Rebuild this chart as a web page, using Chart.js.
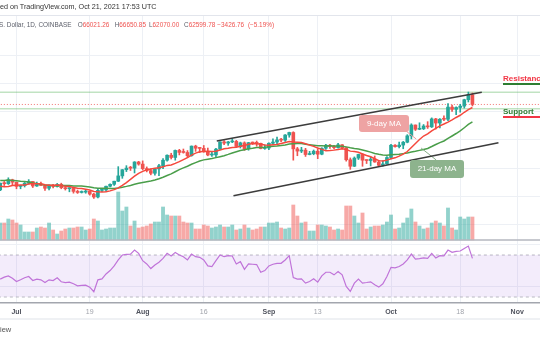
<!DOCTYPE html>
<html><head><meta charset="utf-8">
<script src="https://cdn.jsdelivr.net/npm/chart.js@4.4.0/dist/chart.umd.min.js"></script>
<style>
html,body{margin:0;padding:0;background:#fff;width:540px;height:340px;overflow:hidden;font-family:"Liberation Sans",Arial,sans-serif;}
#wrap{position:relative;width:540px;height:340px;}
canvas{position:absolute;left:0;top:0;}
.t{position:absolute;white-space:nowrap;line-height:1;}
.h2{top:21.5px;font-size:6.4px}
.g{color:#5d606b}.r{color:#ef5350}
.call{position:absolute;color:#fff;font-size:8px;text-align:center;border-radius:3px;line-height:17px;height:17px;}
</style></head><body>
<div id="wrap">
<canvas id="c" width="540" height="340"></canvas>
<div class="t" style="left:0;top:3px;font-size:7.2px;color:#333">ed on TradingView.com, Oct 21, 2021 17:53 UTC</div>
<div class="t g h2" style="left:-1px">S. Dollar, 1D, COINBASE</div>
<div class="t h2" style="left:77.7px"><span class="g">O</span><span class="r">66021.26</span></div>
<div class="t h2" style="left:114.7px"><span class="g">H</span><span class="r">66650.85</span></div>
<div class="t h2" style="left:149px"><span class="g">L</span><span class="r">62070.00</span></div>
<div class="t h2" style="left:184px"><span class="g">C</span><span class="r">62599.78</span></div>
<div class="t r h2" style="left:217.3px;word-spacing:2px">−3426.76 (−5.19%)</div>
<div class="t" style="left:503px;top:75px;font-size:8px;font-weight:bold;color:#f23645">Resistance</div>
<div style="position:absolute;left:503px;top:82.5px;width:40px;height:2px;background:#2e7d32"></div>
<div class="t" style="left:503px;top:107.5px;font-size:8px;font-weight:bold;color:#2e7d32">Support</div>
<div style="position:absolute;left:503px;top:116px;width:40px;height:2px;background:#f23645"></div>
<div class="call" style="left:359px;top:115px;width:50px;background:#eea3a3">9-day MA</div>
<div class="call" style="left:410px;top:160px;width:54px;height:18px;line-height:18px;background:#8db38d">21-day MA</div>
<div style="position:absolute;left:0;top:317.5px;width:540px;height:2px;background:#eff1f4"></div>
<div class="t" style="left:0;top:326px;font-size:7.5px;color:#555">iew</div>
</div>
<script>
// ---- data (day index 0 = Jun 27, 2021) ----
const open = [32280,34700,34500,35900,35040,33540,33820,34660,35290,33690,34230,33860,32880,33820,33510,34260,33090,32730,32820,31780,31400,31530,31790,30820,29790,32140,32300,33600,34290,35380,37270,39460,40030,40010,42200,41460,39850,39150,38200,39740,40870,42830,44600,43800,46300,45600,45580,44430,47830,47090,47020,45940,44690,44710,46760,49340,48900,49320,49510,47710,48990,46850,49070,48900,48810,46990,47160,48850,49280,50030,49940,51770,52660,46860,46070,46400,44850,45150,46030,44960,47090,48150,47750,47290,48300,47250,42990,40700,43580,44880,42840,42720,43200,42200,41030,41520,43790,48140,47650,48200,49220,51470,55320,53800,53970,54960,54660,57480,56010,57370,57350,61670,60880,61530,62010,64280,66021];
const high = [34750,35300,36600,36100,35040,33950,34950,35950,35300,35080,35070,33900,34100,34260,34600,34680,33330,33100,33180,32250,31950,32450,31890,31050,32850,32590,33630,34500,35400,40550,39540,40900,40640,42320,42440,42600,40460,39780,39970,41400,43390,44700,45300,46460,46700,46800,46250,47900,48150,47390,48050,47150,46000,47050,49380,49800,49500,50500,49870,49250,49350,49170,49300,49640,48900,48250,49000,50400,51050,50560,51900,52780,52920,47380,47400,47040,45990,46460,46870,47250,48470,48500,48150,48820,48370,47350,43640,44000,44980,45200,42970,43930,44340,42790,42620,44120,48500,48350,49250,49500,51890,55750,55340,56100,55480,56500,57840,57680,57590,58530,62900,62360,61720,62650,64470,67000,66651];
const low = [32000,33860,34250,34000,32700,32700,33330,34400,33150,33540,33780,32100,32270,33020,33320,32700,32250,31630,31150,31050,31200,31120,30450,29300,29490,31720,31800,33400,33880,35260,36410,38800,39200,38310,41060,39420,38690,37640,37510,37330,39860,42450,43270,42840,44710,45330,43800,44250,45960,45530,45650,44400,44200,43950,46630,48300,48100,49050,47600,47150,46320,46380,48400,47800,46860,46700,46540,48650,48380,49420,49500,50980,42850,44420,45520,44170,44730,44760,43370,44750,46700,47050,46800,47080,46870,42500,39600,40570,43070,40680,41650,40800,42100,40880,40760,41430,43300,47430,47150,46900,49000,50380,53360,53650,53700,54100,54420,53880,54300,56850,56850,60150,58970,59850,61330,63480,62070];
const close = [34700,34500,35900,35040,33540,33820,34660,35290,33690,34230,33860,32880,33820,33510,34260,33090,32730,32820,31780,31400,31530,31790,30820,29790,32140,32300,33600,34290,35380,37270,39460,40030,40010,42200,41460,39850,39150,38200,39740,40870,42830,44600,43800,46300,45600,45580,44430,47830,47090,47020,45940,44690,44710,46760,49340,48900,49320,49510,47710,48990,46850,49070,48900,48810,46990,47160,48850,49280,50030,49940,51770,52660,46860,46070,46400,44850,45150,46030,44960,47090,48150,47750,47290,48300,47250,42990,40700,43580,44880,42840,42720,43200,42200,41030,41520,43790,48140,47650,48200,49220,51470,55320,53800,53970,54960,54660,57480,56010,57370,57350,61670,60880,61530,62010,64280,66000,62600];
const volume = [17,17,21,20,17,15,8,8,8,12,13,12,17,10,6,9,11,12,12,13,13,10,11,21,19,10,11,12,12,48,29,33,14,19,12,13,14,16,18,18,33,25,24,24,24,18,17,17,11,11,15,14,12,13,15,13,13,15,10,11,15,12,10,11,13,13,17,17,18,12,11,12,35,24,17,18,9,9,15,15,14,13,10,11,10,34,34,24,17,27,11,13,14,14,15,18,25,11,12,17,22,31,18,14,11,12,17,19,17,14,32,12,10,23,21,23,23];
const ma9 = [33570,33460,33490,33870,33990,34000,34000,34410,34570,34520,34450,34110,33980,33970,34020,33850,33560,33470,33190,32920,32770,32550,32250,31750,31640,31600,31680,31960,32400,33040,33890,34920,36050,37170,38190,38880,39420,39740,40010,40170,40480,40990,41170,41700,42340,43060,43750,44650,45340,45810,45950,46050,45880,46010,46420,46920,47090,47350,47430,47770,48010,48490,48730,48670,48460,48220,48150,48320,48440,48780,49080,49500,49280,49180,49100,48650,48190,47750,47190,46670,46170,46270,46410,46620,46890,46650,46050,45900,45650,45060,44510,44050,43370,42680,42520,42860,43370,43680,44270,44990,45910,47370,48790,50170,51410,52140,53230,54100,55000,55660,56360,57150,57990,58770,59840,60790,61520];
const ma21 = [35620,35670,35790,35670,35520,35360,35310,35140,34810,34530,34310,34070,33970,33870,33810,33880,33890,33850,33710,33700,33670,33530,33360,33060,32930,32870,32860,32840,32840,33010,33260,33560,33900,34300,34670,34940,35230,35490,35820,36250,36800,37420,37990,38730,39480,40120,40700,41380,41980,42540,42950,43200,43420,43750,44090,44440,44890,45380,45840,46280,46560,46860,47060,47300,47340,47410,47570,47800,47900,48040,48260,48580,48690,48750,48730,48520,48340,48180,47970,47940,47900,47940,47860,47830,47750,47560,47260,47000,46800,46450,46110,45700,45200,44930,44710,44580,44740,44860,44960,45170,45370,45720,46000,46320,46640,46990,47680,48410,49070,49660,50560,51420,52300,53240,54350,55510,56410];
const rsi = [47.0,48.9,50.1,47.9,44.8,46.4,48.3,49.5,45.7,47.0,46.4,43.8,46.4,45.7,48.3,44.5,43.8,44.2,42.6,40.7,41.0,41.3,39.4,35.0,46.4,47.3,52.0,55.2,59.6,65.3,70.0,70.6,70.9,74.7,71.6,64.6,61.5,57.1,60.5,63.1,66.8,71.6,69.1,72.5,70.0,68.4,65.3,70.9,68.4,67.8,65.3,59.6,59.0,64.6,70.0,68.4,69.4,69.1,61.5,63.7,56.4,61.5,61.2,60.9,53.6,55.2,59.6,61.2,62.1,62.1,65.3,69.4,48.6,47.0,47.3,43.2,44.8,47.3,44.2,50.1,53.6,53.6,51.1,54.2,51.1,40.1,35.3,43.2,47.0,43.2,43.8,44.5,41.6,39.4,42.6,49.5,58.3,57.7,59.0,61.5,65.3,70.9,66.2,66.5,67.2,66.8,71.6,67.2,69.4,69.1,74.7,72.5,73.5,73.8,76.3,78.5,66.8];
const tickDays = [4,22,35,50,66,78,96,113,127];
const tickLabels = ['Jul','19','Aug','16','Sep','13','Oct','18','Nov'];
const priceGrid = [20000,30000,40000,50000,60000,70000,80000];
const rsiGrid = [40,80];
const rsiLevels = [70,30];
const resistance = 66915, support = 61100, lastPrice = 62600;
const channelUpper = [[53.2,49650],[118.3,66915]];
const channelLower = [[57.3,30250],[122.4,49040]];
const leader9 = [[99.7,53190],[102.2,50350]];
const leader21 = [[103.4,47160],[107.1,42910]];

// ---- chart ----
const xMin = -0.05, xMax = 132.6;
const days = close.map((_, i) => i);
const isUp = days.map(i => close[i] >= open[i]);
const cCol = days.map(i => isUp[i] ? '#26a69a' : '#ef5350');
const vCol = days.map(i => isUp[i] ? 'rgba(38,166,154,0.5)' : 'rgba(239,83,80,0.5)');
const hline = v => [{x:xMin-2,y:v},{x:xMax+2,y:v}];
const seg = p => p.map(q => ({x:q[0], y:q[1]}));
const lineDs = (data, color, width, extra) => Object.assign({type:'line', data, borderColor:color, borderWidth:width, pointRadius:0, fill:false, tension:0, yAxisID:'y'}, extra||{});

const paneLines = {
  id:'paneLines',
  afterDatasetsDraw(chart){
    const {ctx, chartArea:a, scales} = chart;
    const yb = scales.yv.getPixelForValue(0);
    ctx.save();
    ctx.strokeStyle = '#b4b7bf'; ctx.lineWidth = 1.6;
    ctx.beginPath(); ctx.moveTo(a.left, yb); ctx.lineTo(a.right, yb); ctx.stroke();
    ctx.strokeStyle = '#e2e5ec'; ctx.lineWidth = 1;
    ctx.beginPath(); ctx.moveTo(a.left, a.top + 0.5); ctx.lineTo(a.right, a.top + 0.5); ctx.stroke();
    ctx.restore();
  }
};

const gridCol = '#edf0f5';
new Chart(document.getElementById('c'), {
  type:'bar',
  data:{ datasets:[
    {type:'bar', label:'Volume', yAxisID:'yv', data:days.map(i=>({x:i,y:volume[i]})), backgroundColor:vCol, barThickness:3.2, grouped:false, order:20},
    lineDs(hline(rsiLevels[0]), '#b9b9c2', 1, {yAxisID:'yr', borderDash:[3,3], order:15}),
    lineDs(hline(rsiLevels[1]), '#b9b9c2', 1, {yAxisID:'yr', borderDash:[3,3], fill:'-1', backgroundColor:'rgba(160,100,225,0.12)', order:14}),
    lineDs(days.map(i=>({x:i,y:rsi[i]})), '#c074d9', 1.2, {yAxisID:'yr', order:5}),
    lineDs(hline(resistance), 'rgba(76,175,80,0.35)', 1.5, {order:12}),
    lineDs(hline(support), 'rgba(76,175,80,0.35)', 1.5, {order:12}),
    lineDs(hline(lastPrice), 'rgba(239,83,80,0.8)', 1, {borderDash:[1,2], order:11}),
    {type:'bar', label:'Wick', yAxisID:'y', data:days.map(i=>({x:i,y:[low[i],high[i]]})), backgroundColor:cCol, barThickness:1, grouped:false, order:4},
    {type:'bar', label:'Body', yAxisID:'y', data:days.map(i=>({x:i,y:[open[i],close[i]]})), backgroundColor:cCol, barThickness:3, minBarLength:1, grouped:false, order:3},
    lineDs(days.map(i=>({x:i,y:ma21[i]})), '#4a9e4a', 1.5, {order:2}),
    lineDs(days.map(i=>({x:i,y:ma9[i]})), '#f5483d', 1.5, {order:1}),
    lineDs(seg(channelUpper), '#3c3c3c', 1.6, {order:1}),
    lineDs(seg(channelLower), '#3c3c3c', 1.6, {order:1}),
    lineDs(seg(leader9), '#e99a9a', 1, {order:1}),
    lineDs(seg(leader21), '#86ad86', 1, {order:1})
  ]},
  options:{
    responsive:false, animation:false, events:[],
    layout:{padding:{top:15,left:0,right:0,bottom:0}},
    plugins:{legend:{display:false}, tooltip:{enabled:false}},
    scales:{
      x:{type:'linear', min:xMin, max:xMax, offset:false,
        grid:{color:gridCol, offset:false, drawTicks:false},
        border:{display:true, color:'#a3a6ae', width:1.5},
        afterBuildTicks:s=>{ s.ticks = tickDays.map(v=>({value:v})); },
        afterFit:s=>{ s.height = 37; },
        ticks:{autoSkip:false, maxRotation:0, padding:5,
          callback:(v, i)=> tickLabels[i],
          font:ctx=>({family:'"Liberation Sans", Arial, sans-serif', size:7, weight: /^[A-Z]/.test(tickLabels[ctx.index]||'') ? 'bold':'normal'}),
          color:ctx=> /^[A-Z]/.test(tickLabels[ctx.index]||'') ? '#50535e' : '#a0a3ab'}
      },
      y:{type:'linear', position:'right', min:-7800, max:94325,
        afterBuildTicks:s=>{ s.ticks = priceGrid.map(v=>({value:v})); },
        afterFit:s=>{ s.width = 0; },
        grid:{color:gridCol, drawTicks:false}, border:{display:false}, ticks:{display:false}},
      yr:{type:'linear', position:'right', min:24.3, max:298.6,
        afterBuildTicks:s=>{ s.ticks = rsiGrid.map(v=>({value:v})); },
        afterFit:s=>{ s.width = 0; },
        grid:{color:gridCol, drawTicks:false}, border:{display:false}, ticks:{display:false}},
      yv:{type:'linear', display:false, min:-63, max:225}
    }
  },
  plugins:[paneLines]
});
</script>
</body></html>
